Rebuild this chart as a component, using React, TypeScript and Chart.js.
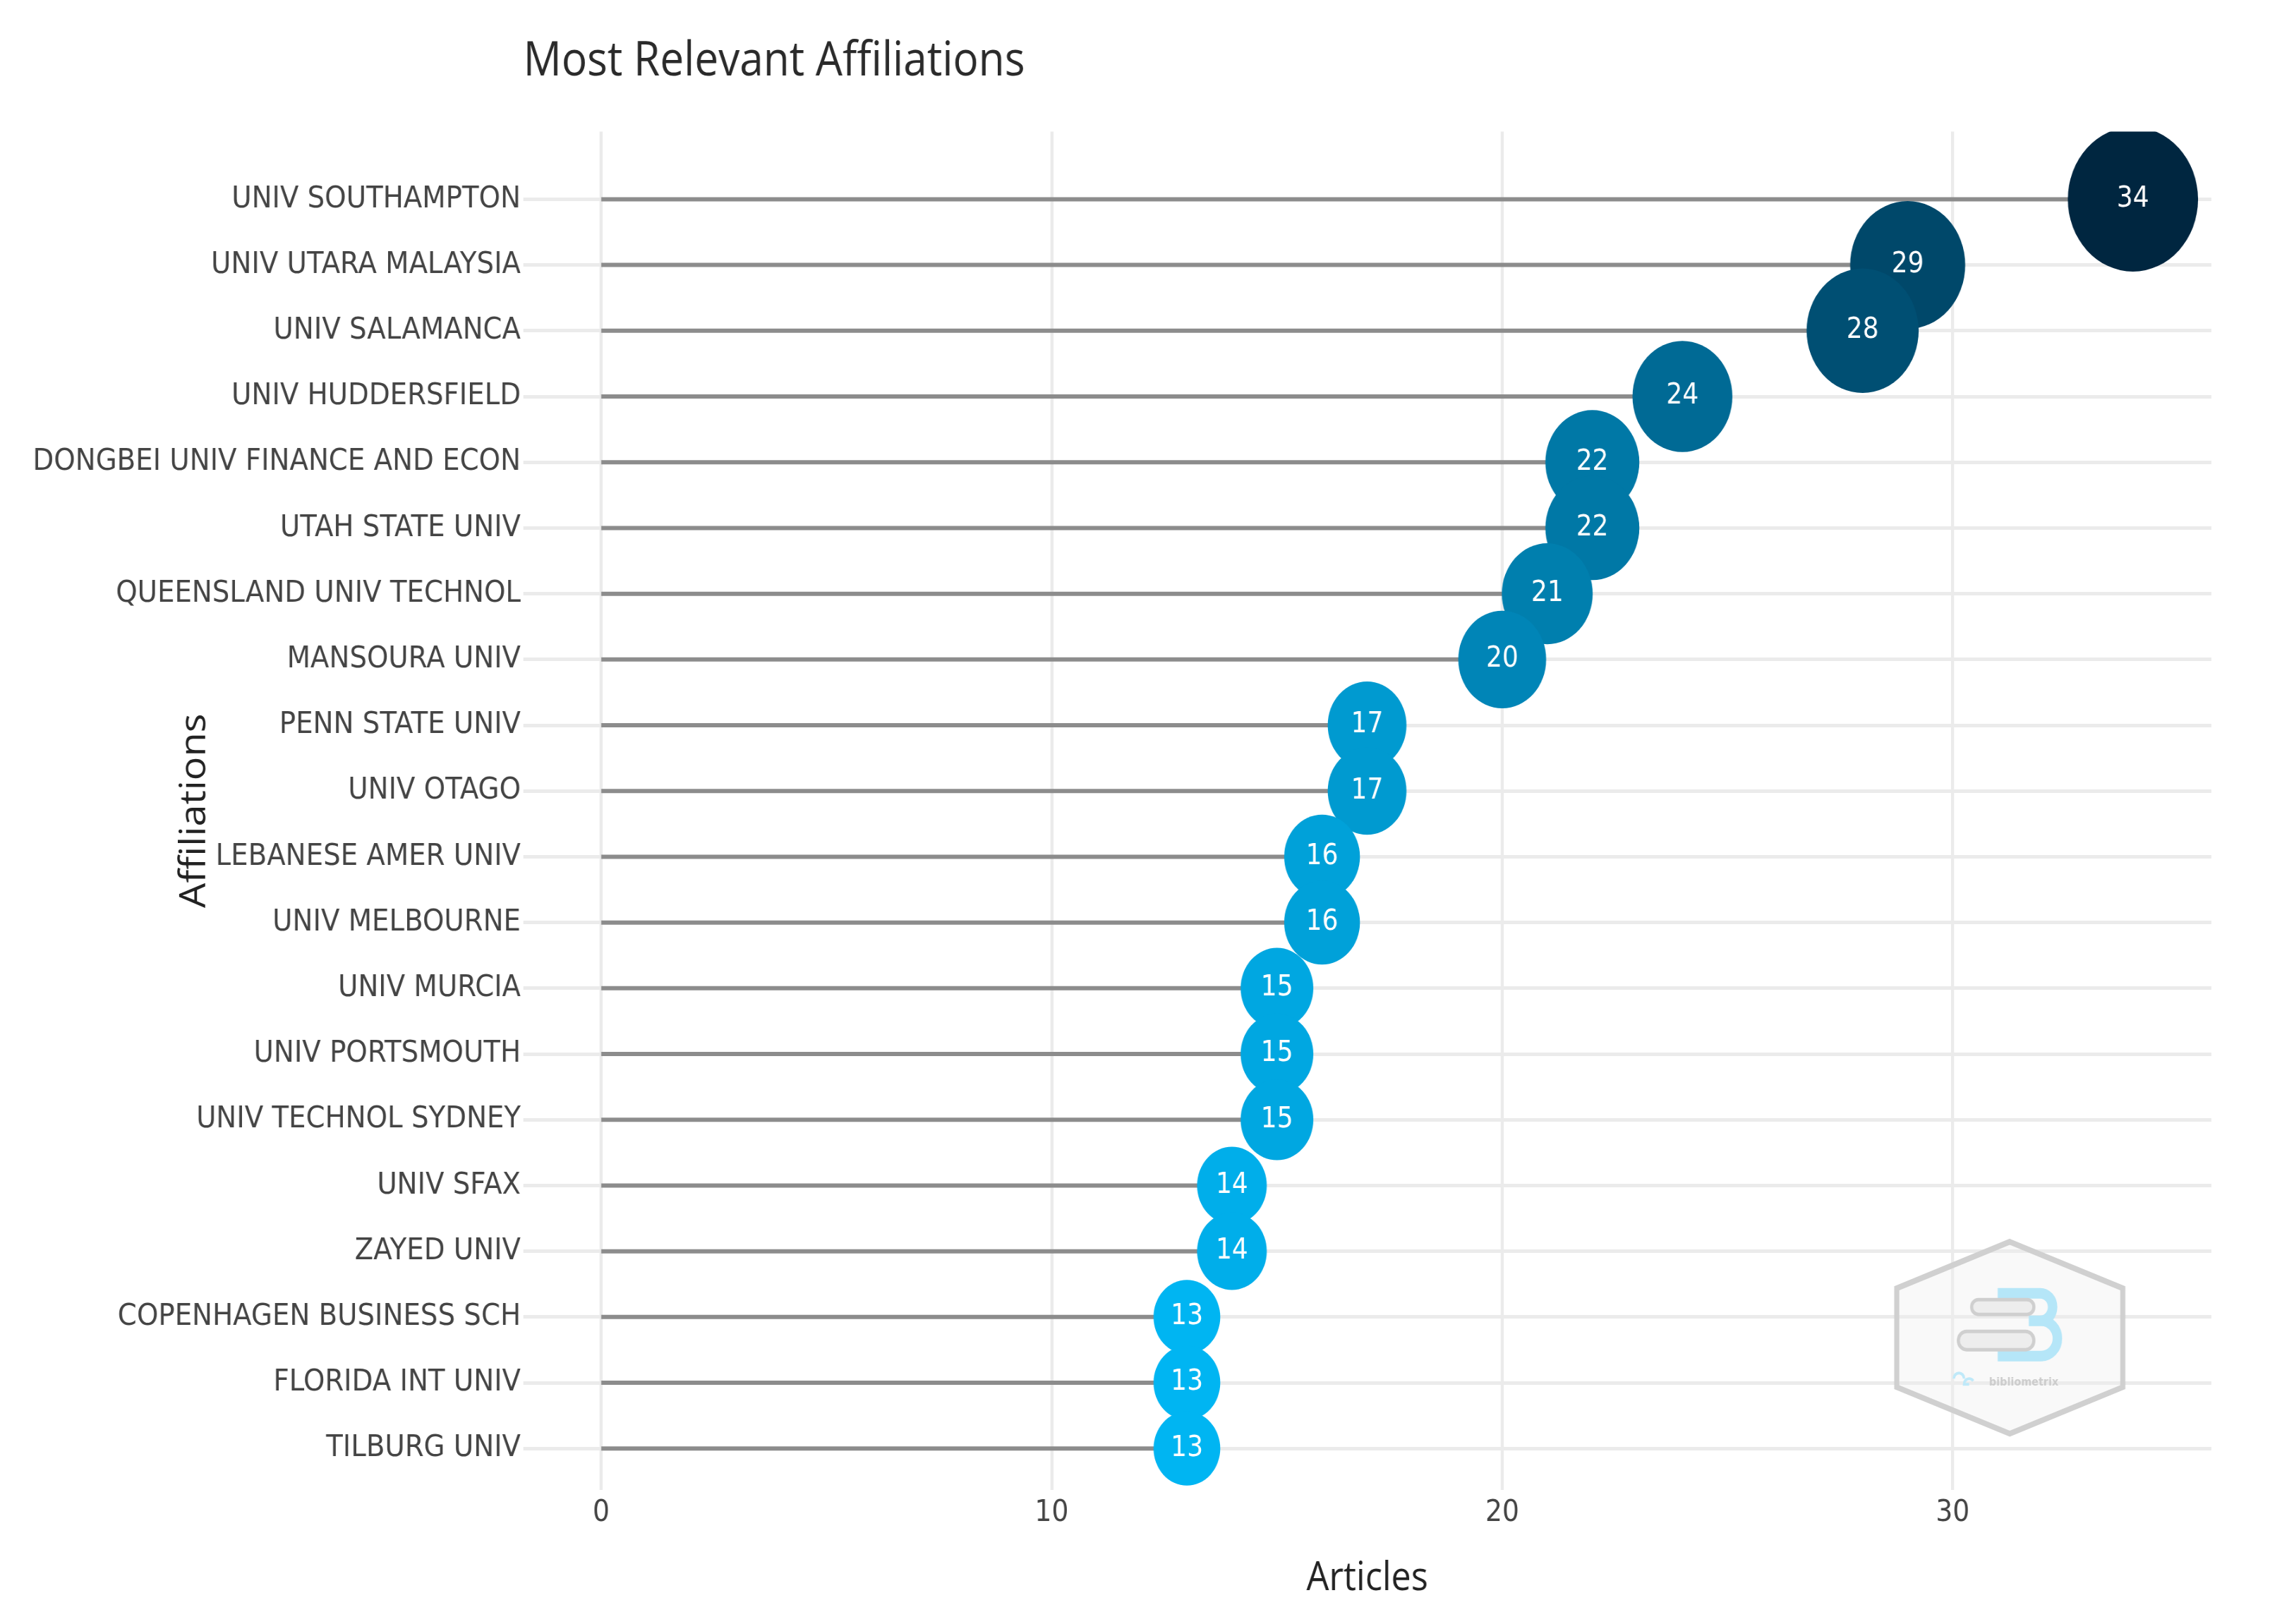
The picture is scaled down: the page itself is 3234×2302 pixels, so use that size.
import React, { useEffect, useRef } from 'react';
import { Chart, registerables } from 'chart.js';

Chart.register(...registerables);

// ---------- data ----------
const affiliations = [
  'UNIV SOUTHAMPTON',
  'UNIV UTARA MALAYSIA',
  'UNIV SALAMANCA',
  'UNIV HUDDERSFIELD',
  'DONGBEI UNIV FINANCE AND ECON',
  'UTAH STATE UNIV',
  'QUEENSLAND UNIV TECHNOL',
  'MANSOURA UNIV',
  'PENN STATE UNIV',
  'UNIV OTAGO',
  'LEBANESE AMER UNIV',
  'UNIV MELBOURNE',
  'UNIV MURCIA',
  'UNIV PORTSMOUTH',
  'UNIV TECHNOL SYDNEY',
  'UNIV SFAX',
  'ZAYED UNIV',
  'COPENHAGEN BUSINESS SCH',
  'FLORIDA INT UNIV',
  'TILBURG UNIV',
];
const articles = [34, 29, 28, 24, 22, 22, 21, 20, 17, 17, 16, 16, 15, 15, 15, 14, 14, 13, 13, 13];
const xTicks = [0, 10, 20, 30];

const TITLE = 'Most Relevant Affiliations';
const X_TITLE = 'Articles';
const Y_TITLE = 'Affiliations';

// ---------- visual scales (not data) ----------
const OUT_W = 3234;
const OUT_H = 2302;
const SX = 0.9; // the reference is horizontally squeezed
const DESIGN_W = Math.round(OUT_W / SX);

const LOW_RGB = [0, 181, 242];
const HIGH_RGB = [0, 38, 64];
const D_MIN = 105;
const D_MAX = 205;

const vMin = Math.min(...articles);
const vMax = Math.max(...articles);

function colorFor(v: number) {
  const t = (v - vMin) / (vMax - vMin);
  const c = LOW_RGB.map((lo, i) => Math.round(lo + (HIGH_RGB[i] - lo) * t));
  return `rgb(${c[0]},${c[1]},${c[2]})`;
}
function radiusFor(v: number) {
  const t = (v - vMin) / (vMax - vMin);
  return (D_MIN + (D_MAX - D_MIN) * t) / 2;
}

const valueLabels = {
  id: 'valueLabels',
  afterDatasetsDraw(chart: any) {
    const meta = chart.getDatasetMeta(0);
    const ctx = chart.ctx;
    ctx.save();
    ctx.fillStyle = '#ffffff';
    ctx.font = '40px "DejaVu Sans"';
    ctx.textAlign = 'center';
    ctx.textBaseline = 'middle';
    meta.data.forEach((el: any, i: number) => {
      ctx.fillText(String(articles[i]), el.x, el.y);
    });
    ctx.restore();
  },
};

const watermark = {
  id: 'watermark',
  beforeDatasetsDraw(chart: any) {
    const { ctx, chartArea: a } = chart;
    const cx = a.left + (a.right - a.left) * 0.8806;
    const cy = a.top + (a.bottom - a.top) * 0.8879;
    ctx.save();
    ctx.translate(cx, cy);
    ctx.beginPath();
    ctx.moveTo(0, -136);
    ctx.lineTo(178, -70);
    ctx.lineTo(178, 70);
    ctx.lineTo(0, 136);
    ctx.lineTo(-178, 70);
    ctx.lineTo(-178, -70);
    ctx.closePath();
    ctx.fillStyle = 'rgba(238,238,238,0.35)';
    ctx.fill();
    ctx.lineWidth = 8;
    ctx.strokeStyle = '#d0d0d0';
    ctx.stroke();

    // blue "3"
    ctx.beginPath();
    ctx.lineWidth = 15;
    ctx.strokeStyle = '#b5e6f8';
    ctx.moveTo(-19, -63);
    ctx.lineTo(48, -63);
    ctx.arc(48, -43.5, 19.5, -Math.PI / 2, Math.PI / 2);
    ctx.lineTo(30, -24);
    ctx.moveTo(30, -24);
    ctx.lineTo(50, -24);
    ctx.arc(50, 1, 25, -Math.PI / 2, Math.PI / 2);
    ctx.lineTo(-19, 26);
    ctx.stroke();

    // gray pills
    ctx.lineWidth = 5;
    ctx.strokeStyle = '#cfcfcf';
    ctx.fillStyle = '#ededed';
    ctx.beginPath();
    (ctx as any).roundRect(-60, -54, 98, 21, 10.5);
    ctx.fill();
    ctx.stroke();
    ctx.beginPath();
    (ctx as any).roundRect(-81, -9, 119, 26, 13);
    ctx.fill();
    ctx.stroke();

    // tiny text
    ctx.fillStyle = '#cccccc';
    ctx.font = 'bold 16px "DejaVu Sans"';
    ctx.textAlign = 'center';
    ctx.textBaseline = 'middle';
    ctx.fillText('bibliometrix', 22, 64);
    ctx.strokeStyle = '#bfe9f9';
    ctx.lineWidth = 4;
    ctx.beginPath();
    ctx.arc(-80, 58, 8, Math.PI, 0);
    ctx.moveTo(-64, 66);
    ctx.arc(-64, 66, 8, Math.PI, Math.PI * 1.8);
    ctx.stroke();
    ctx.restore();
  },
};

export default function App() {
  const ref = useRef<HTMLCanvasElement>(null);

  useEffect(() => {
    document.body.style.margin = '0';
    document.body.style.overflow = 'hidden';
    const canvas = ref.current;
    if (!canvas) return;

    const stemSets = articles.map((v, i) => ({
      type: 'line' as const,
      data: [
        { x: 0, y: i },
        { x: v, y: i },
      ],
      borderColor: '#8c8c8c',
      borderWidth: 6,
      pointRadius: 0,
      borderCapStyle: 'butt' as const,
      order: 1,
    }));

    const chart = new Chart(canvas, {
      type: 'bubble',
      data: {
        datasets: [
          {
            type: 'bubble',
            data: articles.map((v, i) => ({ x: v, y: i, r: radiusFor(v) })),
            backgroundColor: articles.map(colorFor),
            borderWidth: 0,
            hoverBorderWidth: 0,
            clip: 0,
            order: 0,
          } as any,
          ...stemSets,
        ],
      },
      options: {
        responsive: false,
        animation: false,
        events: [],
        layout: { padding: { left: 0, right: 111, top: 0, bottom: 0 } },
        plugins: {
          legend: { display: false },
          tooltip: { enabled: false },
          title: {
            display: true,
            text: TITLE,
            align: 'start',
            fullSize: false,
            color: '#2a2a2a',
            font: { family: "'Open Sans'", size: 67, weight: 'normal' },
            padding: { top: 48, bottom: 58 },
          },
        },
        scales: {
          x: {
            type: 'linear',
            position: 'bottom',
            min: -1.73,
            max: 35.74,
            afterBuildTicks: (axis: any) => {
              axis.ticks = xTicks.map((v) => ({ value: v }));
            },
            afterFit: (s: any) => {
              s.height = 190;
            },
            grid: { color: '#ebebeb', lineWidth: 5, drawTicks: false },
            border: { display: false },
            ticks: {
              color: '#444444',
              font: { family: "'DejaVu Sans'", size: 42 },
              padding: 8,
              autoSkip: false,
              maxRotation: 0,
            },
            title: {
              display: true,
              text: X_TITLE,
              color: '#222222',
              font: { family: "'Open Sans'", size: 56 },
              padding: { top: 0, bottom: 30 },
            },
          },
          y: {
            type: 'linear',
            reverse: true,
            min: -1.03,
            max: 19.63,
            afterBuildTicks: (axis: any) => {
              axis.ticks = affiliations.map((_, i) => ({ value: i }));
            },
            afterFit: (s: any) => {
              s.width = 824;
            },
            grid: { color: '#ebebeb', lineWidth: 5, drawTicks: false },
            border: { display: false },
            ticks: {
              color: '#444444',
              font: { family: "'DejaVu Sans'", size: 43 },
              padding: 4,
              autoSkip: false,
              callback: (v: any) => affiliations[v as number] ?? '',
            },
            title: {
              display: true,
              text: Y_TITLE,
              color: '#222222',
              font: { family: "'Open Sans'", size: 56 },
              padding: { top: 273, bottom: 0 },
            },
          },
        },
      } as any,
      plugins: [watermark, valueLabels],
    });

    return () => chart.destroy();
  }, []);

  return (
    <div style={{ width: OUT_W, height: OUT_H, overflow: 'hidden', background: '#ffffff' }}>
      <div
        style={{
          width: DESIGN_W,
          height: OUT_H,
          transform: `scaleX(${SX})`,
          transformOrigin: '0 0',
        }}
      >
        <canvas ref={ref} width={DESIGN_W} height={OUT_H} style={{ display: 'block' }} />
      </div>
    </div>
  );
}
